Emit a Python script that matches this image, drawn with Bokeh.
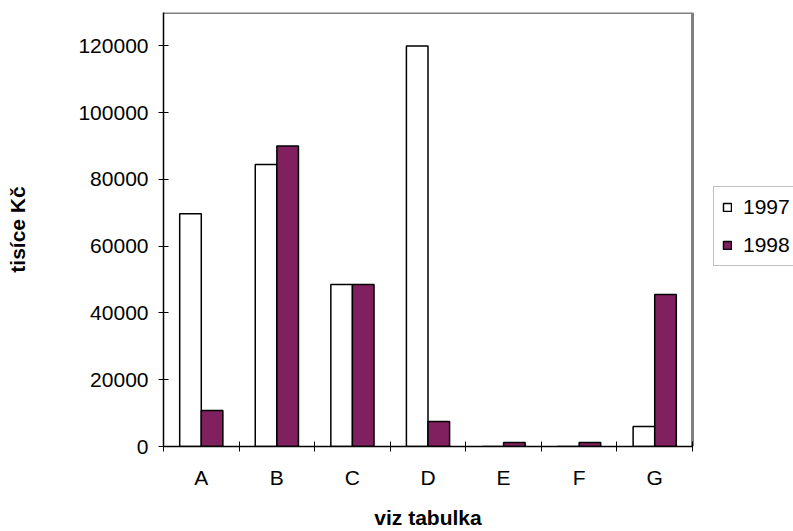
from bokeh.plotting import figure
from bokeh.models import (ColumnDataSource, Range1d, FixedTicker, Legend, LegendItem,
                          NumeralTickFormatter, CustomJSTickFormatter, LinearAxis)
from bokeh.transform import dodge
from bokeh.embed import file_html
from bokeh.resources import INLINE

categories = ["A", "B", "C", "D", "E", "F", "G"]
series_names = ["1997", "1998"]
values_1997 = [69700, 84500, 48500, 120000, 0, 0, 6000]
values_1998 = [10800, 90000, 48500, 7500, 1200, 1200, 45500]
y_ticks = [0, 20000, 40000, 60000, 80000, 100000, 120000]
y_max = 130000
x_title = "viz tabulka"
y_title = "tisíce Kč"

FONT = "Liberation Sans"
PLUM = "#80205F"
GRAY = "#808080"

W, H = 793, 531
LEFT, TOP, BOTTOM = 163, 12, 85
PLOT_W = 529          # width of the category area in px
n = len(categories)
centers = [i + 0.5 for i in range(n)]
bar_w = 1 / 3.5
# frame extends to the right edge so the legend can sit beside the plot area
x_end = n * (W - LEFT) / PLOT_W

src = ColumnDataSource(dict(x=centers, cat=categories, v97=values_1997, v98=values_1998))

p = figure(width=W, height=H, output_backend="svg", toolbar_location=None,
           x_range=Range1d(0, x_end), y_range=Range1d(0, y_max),
           min_border_left=LEFT, min_border_right=0, min_border_top=TOP,
           min_border_bottom=BOTTOM)
p.background_fill_color = "white"
p.border_fill_color = "white"
p.outline_line_color = None
p.xgrid.visible = False
p.ygrid.visible = False

# plot-area border (top and right), grey as in the reference
p.segment(x0=[0, n], y0=[y_max, 0], x1=[n, n], y1=[y_max, y_max],
          line_color=GRAY, line_width=3)

r1 = p.vbar(x=dodge("x", -bar_w / 2), top="v97", width=bar_w, source=src,
            fill_color="white", line_color="black", line_width=1.5)
r2 = p.vbar(x=dodge("x", bar_w / 2), top="v98", width=bar_w, source=src,
            fill_color=PLUM, line_color="black", line_width=1.5)

# y axis
ya = p.yaxis[0]
ya.ticker = FixedTicker(ticks=y_ticks)
ya.formatter = NumeralTickFormatter(format="0")
ya.major_tick_in = 5
ya.major_tick_out = 5
ya.minor_tick_line_color = None
ya.axis_line_color = "black"
ya.axis_line_width = 1.5
ya.major_tick_line_color = "black"
ya.major_label_text_font = FONT
ya.major_label_text_font_size = "21px"
ya.major_label_text_color = "black"
ya.major_label_standoff = 10
ya.axis_label = y_title
ya.axis_label_text_font = FONT
ya.axis_label_text_font_style = "bold"
ya.axis_label_text_font_size = "21px"
ya.axis_label_text_color = "black"
ya.axis_label_standoff = 46

# x axis (category labels, separators between groups)
xa = p.xaxis[0]
xa.bounds = (0, n)
xa.ticker = FixedTicker(ticks=centers, minor_ticks=list(range(n + 1)))
xa.formatter = CustomJSTickFormatter(args=dict(cats=categories),
                                     code="return cats[Math.floor(tick)];")
xa.major_tick_in = 0
xa.major_tick_out = 0
xa.minor_tick_in = 5
xa.minor_tick_out = 5
xa.minor_tick_line_color = "black"
xa.axis_line_color = "black"
xa.axis_line_width = 1.5
xa.major_label_text_font = FONT
xa.major_label_text_font_size = "21px"
xa.major_label_text_color = "black"
xa.major_label_standoff = 14

# x-axis title, centred under the category area
xt = LinearAxis(ticker=FixedTicker(ticks=[n / 2]),
                formatter=CustomJSTickFormatter(args=dict(t=x_title), code="return t;"),
                bounds=(0, n))
xt.axis_line_color = None
xt.major_tick_line_color = None
xt.minor_tick_line_color = None
xt.major_tick_in = 0
xt.major_tick_out = 0
xt.minor_tick_out = 0
xt.major_label_standoff = 14
xt.major_label_text_font = FONT
xt.major_label_text_font_style = "bold"
xt.major_label_text_font_size = "21px"
xt.major_label_text_color = "black"
p.add_layout(xt, "below")

legend = Legend(items=[LegendItem(label=series_names[0], renderers=[r1]),
                       LegendItem(label=series_names[1], renderers=[r2])],
                location=(550, 180))
legend.label_text_font = FONT
legend.label_text_font_size = "21px"
legend.label_text_color = "black"
legend.glyph_width = 10
legend.glyph_height = 10
legend.label_height = 22
legend.label_standoff = 11
legend.spacing = 14
legend.padding = 8
legend.margin = 0
legend.border_line_color = GRAY
legend.border_line_width = 1.5
legend.background_fill_color = "white"
p.add_layout(legend, "center")

open("out.html", "w").write(file_html(p, INLINE))
